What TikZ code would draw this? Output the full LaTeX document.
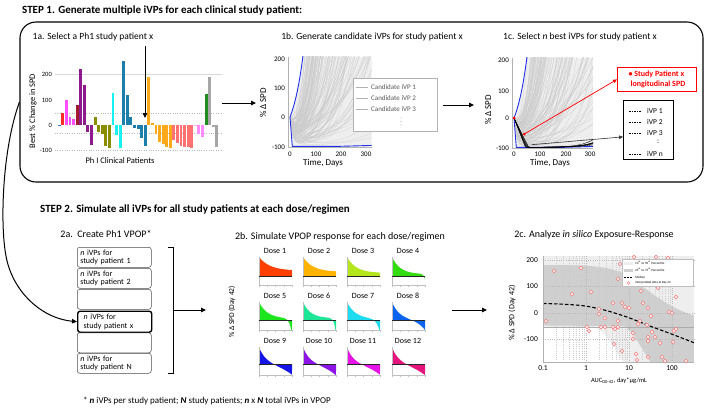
\documentclass[tikz,border=0pt]{standalone}
\usepackage{fontspec}
\setmainfont{Carlito}
\usetikzlibrary{arrows.meta}
\definecolor{bBlue}{HTML}{4472C4}
\definecolor{cRed}{HTML}{FF2A2A}
\definecolor{cMag}{HTML}{FF4DFF}
\definecolor{cDred}{HTML}{A01C2C}
\definecolor{cPurp}{HTML}{8E1A8E}
\definecolor{cOlive}{HTML}{8C8C00}
\definecolor{cCyan}{HTML}{19F0F0}
\definecolor{cTeal}{HTML}{1B7EAB}
\definecolor{cOrange}{HTML}{FFA81A}
\definecolor{cSalmon}{HTML}{FF7272}
\definecolor{cLpink}{HTML}{FFB3FF}
\definecolor{cPink}{HTML}{FF8CFF}
\definecolor{cDgreen}{HTML}{1E8C1E}
\definecolor{cLgray}{HTML}{A6A6A6}
\definecolor{pBlue}{HTML}{2030E8}
\definecolor{cPt}{HTML}{F08A8A}
\definecolor{d1}{HTML}{FF4000}
\definecolor{d2}{HTML}{FFB300}
\definecolor{d3}{HTML}{B4E61E}
\definecolor{d4}{HTML}{33DD11}
\definecolor{d5}{HTML}{1EE61E}
\definecolor{d6}{HTML}{1EE696}
\definecolor{d7}{HTML}{1EDCF0}
\definecolor{d8}{HTML}{0A64F0}
\definecolor{d9}{HTML}{1414E6}
\definecolor{d10}{HTML}{8C14E6}
\definecolor{d11}{HTML}{E614E6}
\definecolor{d12}{HTML}{E6147D}
\begin{document}
\begin{tikzpicture}[x=1pt,y=-1pt,font=\fontsize{8}{9.5}\selectfont,
  arr/.style={-{Triangle[length=5pt,width=4.5pt]},line width=0.9pt},
  gcurve/.style={gray!40,line width=0.2pt},
  head/.style={font=\bfseries\fontsize{11}{13}\selectfont,anchor=base west,inner sep=0pt},
  sub/.style={font=\fontsize{10}{12}\selectfont,anchor=base,inner sep=0pt},
  subs/.style={font=\fontsize{9.5}{11}\selectfont,anchor=base,inner sep=0pt},
  tick/.style={font=\fontsize{6.5}{7}\selectfont,inner sep=1pt},
  alab/.style={font=\fontsize{8.5}{10}\selectfont,inner sep=0pt},
  vbox/.style={draw=gray!60!black,line width=0.5pt,rounded corners=2.5pt,minimum width=74pt,minimum height=20pt,anchor=north west,align=left,inner sep=1pt,text width=68pt,font=\fontsize{8}{8.6}\selectfont},
  leg/.style={font=\fontsize{7}{8}\selectfont,anchor=west,inner sep=0pt,text=gray!70!black},
  tiny/.style={font=\fontsize{3.2}{3.5}\selectfont,anchor=west,inner sep=0pt}
]
\useasboundingbox (0,0) rectangle (709,408);

% ---------------- STEP 1 ----------------
\node[head] (h1) at (22,13) {STEP 1. Generate multiple iVPs for each clinical study patient:};
\node[draw,line width=1.1pt,rounded corners=16pt,minimum width=683pt,minimum height=160pt,inner sep=0pt] (frame) at (361.5,102) {};
\node[subs] (h1a) at (93,39) {1a. Select a Ph1 study patient x};
\node[subs] (h1b) at (372,39) {1b. Generate candidate iVPs for study patient x};
\node[subs] (h1c) at (580,39) {1c. Select \textit{n} best iVPs for study patient x};

% ---- 1a bar chart
\draw[gray!30,line width=0.6pt] (55,74.7) -- (222,74.7);
\foreach \yy in {112.7,132.9,150.6} \draw[gray!55,dotted,line width=0.4pt] (55,\yy) -- (222,\yy);
\foreach \bv/\bc [count=\i] in {3/bBlue,47/cRed,100/cMag,32/cMag,26/cMag,79/cDred,221/cPurp,159/cPurp,-25/cPurp,-78/cPurp,34/cOlive,-25/cOlive,-35/cOlive,-80/cOlive,-90/cOlive,126/cCyan,-40/cCyan,-90/cCyan,255/cTeal,120/cTeal,32/cTeal,-10/cTeal,-15/cTeal,-50/cTeal,-80/cTeal,190/cOrange,10/cOrange,-35/cOrange,-65/cOrange,-75/cOrange,-85/cOrange,-90/cOrange,-60/cSalmon,-70/cSalmon,-80/cSalmon,-85/cSalmon,-85/cSalmon,-88/cSalmon,-3/cLpink,-35/cPink,-48/cPink,125/cDgreen,190/cLgray,-5/cLgray,-85/cLgray}{
  \pgfmathsetmacro\xx{59.3+(\i-1)*3.58}
  \pgfmathsetmacro\yy{125.3-\bv*0.253}
  \fill[\bc] (\xx-1.45,125.3) rectangle (\xx+1.45,\yy);
}
\foreach \lab/\yy [count=\i] in {200/74.7,100/100,0/125.3,-100/150.6}
  \node[tick,anchor=east] (ta\i) at (53,\yy) {\lab};
\node[alab,rotate=90] (yla) at (33,111) {Best \% Change in SPD};
\node[alab] (xla) at (120,161) {Ph I Clinical Patients};
\coordinate (a1top) at (145,46);
\coordinate (a1bot) at (145,118);
\draw[arr,line width=0.8pt] (a1top) -- (a1bot);

% ---- 1b
\begin{scope}[shift={(290,117)},x=0.2533pt,y=0.293pt]
  \begin{scope}
    \clip (-2,-101) rectangle (322,205);
    \fill[gray!13] plot[domain=0:51,samples=15] (\x,{100*(exp(0.022*\x)-1)}) -- (322,205) -- (322,-101) -- (9,-101) -- cycle;
    \pgfmathsetseed{5}
    \foreach \i in {1,...,130}{
      \pgfmathsetmacro\cf{0.003+0.5*rnd}
      \pgfmathsetmacro\cg{0.005+0.03*rnd}
      \pgfmathsetmacro\cdd{0.02+0.1*rnd}
      \draw[gcurve] plot[domain=0:322,samples=28] (\x,{100*(min(\cf*exp(min(\cg*\x,8)),3.5)+(1-\cf)*exp(-\cdd*\x)-1)});
    }
    \draw[pBlue,line width=0.9pt] plot[domain=0:55,samples=20] (\x,{100*(exp(0.022*\x)-1)});
    \draw[pBlue,line width=0.9pt] (0,0) -- (9,-100) -- (200,-100) -- (322,-97);
  \end{scope}
  \draw[gray!60,line width=0.4pt] (-8,205) -- (-8,-103) -- (322,-103);
\end{scope}
\foreach \lab/\yy [count=\i] in {200/59,100/88,0/117,-100/147}
  \node[tick,anchor=east,font=\fontsize{7}{8}\selectfont] (tb\i) at (286,\yy) {\lab};
\foreach \lab/\xx [count=\i] in {0/290,100/316,200/341,300/366}
  \node[tick,font=\fontsize{7}{8}\selectfont] (txb\i) at (\xx,154) {\lab};
\node[alab,rotate=90,font=\fontsize{9}{10}\selectfont] (ylb) at (263,103) {\% Δ SPD};
\node[alab,font=\fontsize{9}{10}\selectfont] (xlb) at (323,163) {Time, Days};
\node[draw=gray!60,line width=0.7pt,fill=white,minimum width=84pt,minimum height=53pt,anchor=north west,inner sep=0pt] (leg1b) at (353,78) {};
\foreach \nn/\yy in {1/87,2/98,3/109}{
  \draw[gray!60,line width=0.6pt] (356,\yy) -- (368,\yy);
  \node[leg] (lc\nn) at (371,\yy) {Candidate iVP \nn};
}
\foreach \yy in {118,121.5,125} \fill[gray!70!black] (401,\yy) circle[radius=0.45pt];
\coordinate (ldots) at (401,121.5);

% ---- 1c
\begin{scope}[shift={(514,118)},x=0.2533pt,y=0.293pt]
  \begin{scope}
    \clip (-2,-101) rectangle (312,205);
    \fill[gray!13] plot[domain=0:51,samples=15] (\x,{100*(exp(0.022*\x)-1)}) -- (312,205) -- (312,-101) -- (9,-101) -- cycle;
    \pgfmathsetseed{11}
    \foreach \i in {1,...,120}{
      \pgfmathsetmacro\cf{0.003+0.5*rnd}
      \pgfmathsetmacro\cg{0.005+0.03*rnd}
      \pgfmathsetmacro\cdd{0.02+0.1*rnd}
      \draw[gcurve] plot[domain=0:312,samples=28] (\x,{100*(min(\cf*exp(min(\cg*\x,8)),3.5)+(1-\cf)*exp(-\cdd*\x)-1)});
    }
    \draw[pBlue,line width=0.9pt] plot[domain=0:55,samples=20] (\x,{100*(exp(0.022*\x)-1)});
    \draw[pBlue,line width=0.9pt] (0,0) -- (9,-100) -- (200,-100) -- (312,-97);
    \foreach \cf/\cg/\ct in {0.0005/0.02/45,0.0003/0.018/50,0.0004/0.019/55,0.0006/0.017/48,0.0002/0.021/52,0.0005/0.0185/58,0.0003/0.02/46}
      \draw[black,line width=0.35pt] plot[domain=0:312,samples=45] (\x,{100*(\cf*exp(min(\cg*\x,8))+(1-\cf)*max(0,1-\x/\ct)-1)});
  \end{scope}
  \draw[gray!60,line width=0.4pt] (-8,205) -- (-8,-103) -- (312,-103);
  \coordinate (rd1) at (0,0);
  \coordinate (rd2) at (40,-55);
  \coordinate (bk) at (70,-91);
\end{scope}
\fill[red] (rd1) circle[radius=1.5pt];
\fill[red] (rd2) circle[radius=1.5pt];
\foreach \lab/\yy [count=\i] in {200/60,100/91,0/118,-100/148}
  \node[tick,anchor=east,font=\fontsize{7}{8}\selectfont] (tc\i) at (510,\yy) {\lab};
\foreach \lab/\xx [count=\i] in {0/514,100/540,200/566,300/590}
  \node[tick,font=\fontsize{7}{8}\selectfont] (txc\i) at (\xx,154) {\lab};
\node[alab,rotate=90,font=\fontsize{9}{10}\selectfont] (ylc) at (488,110) {\% Δ SPD};
\node[alab,font=\fontsize{9}{10}\selectfont] (xlc) at (550,163) {Time, Days};
\node[draw=red,line width=0.8pt,fill=white,text=red,font=\bfseries\fontsize{8}{9.5}\selectfont,align=left,minimum width=79pt,minimum height=24pt,anchor=north west,inner sep=2pt] (redbox) at (617,67) {\textbullet\ Study Patient x\\\hspace*{2pt}longitudinal SPD};
\draw[red,line width=0.7pt,-{Triangle[length=4pt,width=3.5pt]}] (rd2) -- (redbox.west);
\node[draw,line width=0.8pt,fill=white,minimum width=50pt,minimum height=59pt,anchor=north west,inner sep=0pt] (bbox) at (623,100) {};
\draw[gray!40!black,line width=0.6pt,-{Triangle[length=4pt,width=3.5pt]}] (bk) -- ([yshift=-7pt]bbox.west);
\foreach \nn/\yy in {1/111,2/122,3/133,n/154}{
  \draw[dash pattern=on 1.5pt off 1pt,line width=0.5pt] (629,\yy) -- (641,\yy);
  \node[leg,text=black,font=\fontsize{7.5}{8}\selectfont] (lv\nn) at (647,\yy) {iVP \nn};
}
\node[inner sep=0pt,font=\fontsize{7.5}{8}\selectfont] (lcol) at (658,142) {:};

% arrows step 1
\coordinate (s1a) at (222,103); \coordinate (s1b) at (256,103);
\draw[arr] (s1a) -- (s1b);
\coordinate (s2a) at (443,105); \coordinate (s2b) at (474,105);
\draw[arr] (s2a) -- (s2b);

% ---------------- STEP 2 ----------------
\node[head] (h2) at (40,212) {STEP 2. Simulate all iVPs for all study patients at each dose/regimen};
\node[sub] (h2a) at (106,237) {2a.\ \ Create Ph1 VPOP*};
\node[sub] (h2b) at (340,239) {2b. Simulate VPOP response for each dose/regimen};
\node[sub] (h2c) at (594,237) {2c. Analyze \textit{in silico} Exposure-Response};

% 2a boxes
\node[vbox] (b1) at (77,247) {\textit{n} iVPs for\\study patient 1};
\node[vbox] (b2) at (77,268) {\textit{n} iVPs for\\study patient 2};
\node[vbox] (b3) at (77,289) {};
\node[vbox,draw=black,line width=1.4pt,minimum height=21pt] (b4) at (77,310.5) {\hspace*{3pt}\textit{n} iVPs for\\\hspace*{3pt}study patient x};
\node[vbox] (b5) at (77,332.5) {};
\node[vbox] (b6) at (77,353) {\textit{n} iVPs for\\study patient N};
\draw[line width=0.8pt] (168,247) -- (173,247) -- (173,373) -- (168,373);
\coordinate (brk) at (173,310); \coordinate (brkend) at (206,310);
\draw[arr] (brk) -- (brkend);

% curved arrow from step 1 to patient x
\draw[arr,line width=1pt] (frame.west) .. controls (2,150) and (0,225) .. (6,256) .. controls (12,290) and (40,318) .. (b4.west);

% 2b small multiples
\node[alab,rotate=90,font=\fontsize{7.5}{9}\selectfont] (yl2b) at (232,312) {\% Δ SPD (Day 42)};
\foreach \cl/\rt/\zz/\clr/\dn/\pc/\pa/\pk/\pd/\pb/\pmm in {
  259/257/0.68/d1/1/0.28/0.72/3/0/0/1,
  303/257/0.68/d2/2/0.22/0.78/3.3/0/0/1,
  347/257/0.68/d3/3/0.16/0.84/3.6/0/0/1,
  392/257/0.68/d4/4/0.1/0.9/4/0/0.3/25,
  259/302/0.65/d5/5/0.1/0.9/4/0/0.9/14,
  303/302/0.65/d6/6/0.12/0.88/4.5/0/0.9/18,
  347/302/0.65/d7/7/0.08/0.92/4/0/0.8/10,
  392/302/0.65/d8/8/0.2/0.8/5/0.3/0.45/5,
  259/347/0.62/d9/9/0.3/0.7/6/0.7/0.2/4,
  303/347/0.62/d10/10/0.28/0.72/6/0.66/0.25/4,
  347/347/0.62/d11/11/0.3/0.7/6.5/0.7/0.2/4,
  392/347/0.62/d12/12/0.28/0.72/6/0.7/0.2/4}{
  \pgfmathsetmacro\zy{\rt+\zz*28}
  \pgfmathsetmacro\yu{\zz*28}
  \pgfmathsetmacro\bot{-(1-\zz)/\zz}
  \begin{scope}[shift={(\cl,\zy)},x=33pt,y=\yu pt]
    \clip (0,\bot) rectangle (1,1);
    \fill[\clr] plot[domain=0:1,samples=40] (\x,{\pc+\pa*exp(-\pk*\x)-\pd*\x-\pb*exp(\pmm*(\x-1))}) -- (1,0) -- (0,0) -- cycle;
  \end{scope}
  \draw[gray!50,line width=0.3pt] (\cl,\rt) -- (\cl,\rt+28) -- (\cl+33,\rt+28);
  \foreach \tt in {0,0.25,0.5,0.75,1} \draw[gray!50,line width=0.3pt] (\cl+\tt*33,\rt+28) -- (\cl+\tt*33,\rt+29.5);
  \draw[gray!30!black,line width=0.35pt] (\cl,\zy) -- (\cl+33,\zy);
  \node[font=\fontsize{8}{9}\selectfont,inner sep=0pt] (dose\dn) at (\cl+16,\rt-6) {Dose \dn};
}
\coordinate (s3a) at (452,310); \coordinate (s3b) at (487,310);
\draw[arr] (s3a) -- (s3b);

% 2c exposure-response
\begin{scope}[shift={(543,313)},x=43pt,y=0.265pt]
  \fill[gray!13] (0,215) rectangle (3.51,-185);
  \fill[white] (0,-55) -- (1.2,-55) .. controls (1.5,-70) and (1.7,-150) .. (1.86,-185) -- (0,-185) -- cycle;
  \fill[gray!38] (0,181) .. controls (1.0,181) and (1.4,178) .. (1.8,155) .. controls (2.3,110) and (2.8,25) .. (3.51,-10) -- (3.51,-185) -- (2.5,-185) .. controls (2.35,-150) and (2.1,-70) .. (1.9,-50) -- (0,-47) -- cycle;
  \foreach \dec in {0,1,2}{
    \foreach \mm in {2,3,4,5,6,7,8,9}
      \draw[gray!40,line width=0.2pt,dotted] ({\dec+log10(\mm)},215) -- ({\dec+log10(\mm)},-185);
  }
  \foreach \dec in {1,2,3} \draw[gray!55,line width=0.25pt,dotted] (\dec,215) -- (\dec,-185);
  \foreach \vv in {200,100,0,-100} \draw[gray!55,line width=0.25pt,dotted] (0,\vv) -- (3.51,\vv);
  \draw[gray!65,line width=0.7pt] (0,-55) -- (3.51,-55);
  \draw[line width=1.1pt,dash pattern=on 3.5pt off 2pt] plot[smooth] coordinates {(0,36) (0.5,33) (1.0,26) (1.5,8) (2.0,-18) (2.5,-50) (3.0,-80) (3.51,-112)};
  \draw[gray!60,line width=0.4pt] (0,215) -- (0,-185) -- (3.51,-185);
\end{scope}
\foreach \px/\py in {554/271,581/268,572/294,591/292,546/321,587/327,589/331,601/327,605/327,599/309,599/314,605/318,613/303,613/327,615/329,618/327,618/321,618/279,620/264,622/303,625/307,629/308,633/269,634/257,633/333,633/339,614/344,622/351,636/354,637/360,638/324,640/321,641/291,643/303,647/325,648/308,648/337,648/341,648/357,651/316,652/332,655/337,656/257,658/288,660/343,662/357,665/361,668/258,669/312,672/313,673/342,674/331,676/297,676/329,686/361}
  \draw[cPt,line width=0.6pt,fill=white] (\px,\py) circle[radius=1.9pt];
\foreach \lab/\yy [count=\i] in {200/260,100/286.5,0/313,-100/339.5}
  \node[tick,anchor=east,font=\fontsize{7.5}{8}\selectfont] (te\i) at (539,\yy) {\lab};
\foreach \lab/\xx [count=\i] in {0.1/543,1/586,10/629,100/672}
  \node[tick,font=\fontsize{7.5}{8}\selectfont] (txe\i) at (\xx,368) {\lab};
\node[alab,rotate=90,font=\fontsize{8}{9}\selectfont] (yl2c) at (512,313) {\% Δ SPD (Day 42)};
\node[alab,font=\fontsize{6.5}{8}\selectfont] (xl2c) at (619,381) {AUC\textsubscript{D0-42}, day*µg/mL};
\node[draw=gray!50,line width=0.4pt,fill=white,minimum width=71pt,minimum height=27pt,anchor=north west,inner sep=0pt] (leg2c) at (622,259) {};
\fill[gray!13] (624,261.5) rectangle (633,265);
\node[tiny] (lt1) at (635,263.2) {10\textsuperscript{th} to 90\textsuperscript{th} Percentile};
\fill[gray!38] (624,268.5) rectangle (633,272);
\node[tiny] (lt2) at (635,270.2) {25\textsuperscript{th} to 75\textsuperscript{th} Percentile};
\draw[line width=0.8pt,dash pattern=on 2pt off 1pt] (624,277) -- (633,277);
\node[tiny] (lt3) at (635,277) {Median};
\draw[cPt,line width=0.5pt,fill=white] (628.5,283) circle[radius=1.5pt];
\node[tiny] (lt4) at (635,283) {Interpolated data at Day 42};

% footnote
\node[anchor=base west,inner sep=0pt,font=\fontsize{9}{11}\selectfont] (foot) at (83,403) {* \textbf{\textit{n}} iVPs per study patient; \textbf{\textit{N}} study patients; \textbf{\textit{n}} x \textbf{\textit{N}} total iVPs in VPOP};
\end{tikzpicture}
\end{document}
